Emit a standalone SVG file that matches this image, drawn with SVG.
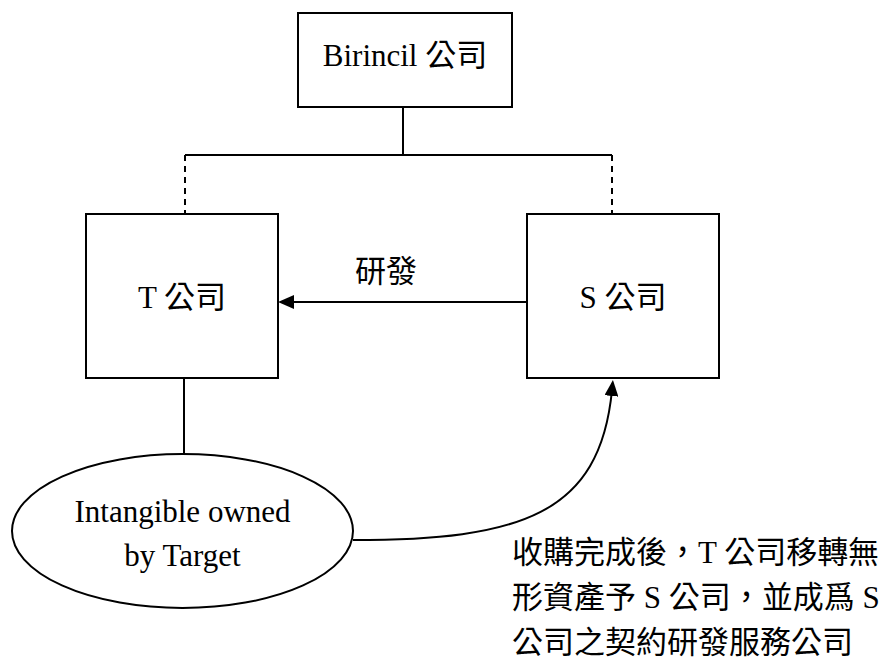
<svg xmlns="http://www.w3.org/2000/svg" width="881" height="659" viewBox="0 0 881 659">
<style>
.box{fill:#fff;stroke:#000;stroke-width:2}
.ln{fill:none;stroke:#000;stroke-width:2}
.dash{fill:none;stroke:#000;stroke-width:2;stroke-dasharray:6 5}
text{font-family:"Liberation Serif","Noto Sans CJK TC",serif;font-size:31px;fill:#000}
.c{text-anchor:middle}
</style>
<defs>
<marker id="arr" viewBox="0 0 16 14" refX="6" refY="7" markerWidth="16" markerHeight="14" markerUnits="userSpaceOnUse" orient="auto">
<path d="M0,0 L16,7 L0,14 z" fill="#000"/>
</marker>
</defs>
<rect width="881" height="659" fill="#fff"/>
<g id="connectors">
<path class="ln" d="M403,107 V155 M185,155 H612"/>
<path class="dash" d="M185,155 V214 M612,155 V214"/>
<path class="ln" d="M184,378 V454"/>
<path class="ln" d="M527,302 H288" marker-end="url(#arr)"/>
<path class="ln" d="M353,540 C520,540 600,515 612,390" marker-end="url(#arr)"/>
</g>
<g id="birincil">
<rect class="box" x="298" y="13" width="214" height="94"/>
<text class="c" x="405" y="66">Birincil 公司</text>
</g>
<g id="t-company">
<rect class="box" x="86" y="214" width="192" height="164"/>
<text class="c" x="182" y="308">T 公司</text>
</g>
<g id="s-company">
<rect class="box" x="527" y="214" width="192" height="164"/>
<text class="c" x="623" y="308">S 公司</text>
</g>
<g id="intangible">
<ellipse class="box" cx="182.5" cy="531" rx="170.5" ry="77"/>
<text class="c" x="182.5" y="522">Intangible owned</text>
<text class="c" x="182.5" y="566">by Target</text>
</g>
<g id="label-rd">
<text class="c" x="386" y="282">研發</text>
</g>
<g id="note">
<text x="512" y="563">收購完成後，T 公司移轉無</text>
<text x="512" y="608">形資產予 S 公司，並成爲 S</text>
<text x="512" y="653">公司之契約研發服務公司</text>
</g>
</svg>
